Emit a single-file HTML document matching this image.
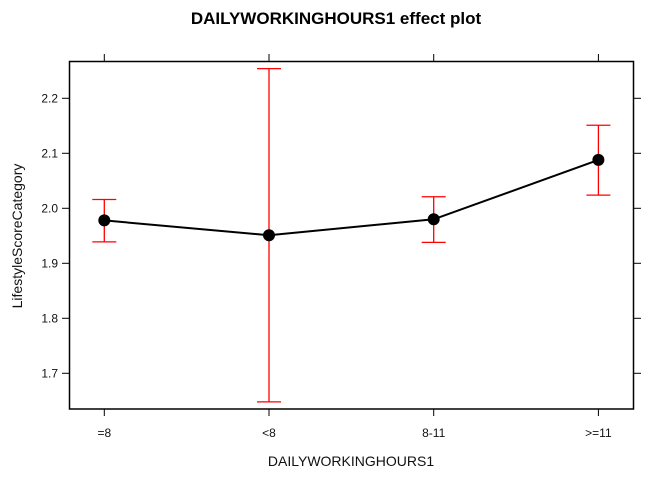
<!DOCTYPE html>
<html><head><meta charset="utf-8"><style>
body{margin:0;background:#fff}
svg{display:block;font-family:"Liberation Sans",Arial,sans-serif}
</style></head><body>
<svg id="c" width="672" height="480">
<text x="336" y="24" text-anchor="middle" font-size="17" font-weight="bold">DAILYWORKINGHOURS1 effect plot</text>
<rect x="69.5" y="61.5" width="564" height="347.5" fill="none" stroke="#000" stroke-width="1.5"/>
<text x="351" y="466" text-anchor="middle" font-size="14" fill="#111">DAILYWORKINGHOURS1</text>
<text transform="translate(22,236) rotate(-90)" text-anchor="middle" font-size="14" fill="#111">LifestyleScoreCategory</text>
<g id="g"></g>
</svg>
<script>
const categories=["=8","<8","8-11",">=11"];
const fitValues=[1.978,1.951,1.980,2.088];
const lowerValues=[1.939,1.648,1.938,2.024];
const upperValues=[2.016,2.254,2.021,2.151];
const yTicks=[1.7,1.8,1.9,2.0,2.1,2.2];
const NS="http://www.w3.org/2000/svg";
const g=document.getElementById('g');
function X(i){return 104.3+i*164.7;}
function Y(v){return 208.3-(v-2.0)*550;}
function mk(t,a){const e=document.createElementNS(NS,t);for(const k in a)e.setAttribute(k,a[k]);g.appendChild(e);return e;}
yTicks.forEach(v=>{
 const y=Y(v);
 let t=mk('line',{x1:62,x2:69.5,y1:y,y2:y,stroke:'#000'});
 
 
 t=mk('line',{x1:633.5,x2:641,y1:y,y2:y,stroke:'#000'});
 
 
 const l=mk('text',{x:58,y:y+4,'text-anchor':'end','font-size':12,fill:'#111'});
 l.textContent=v.toFixed(1);
 
 
});
categories.forEach((c,i)=>{
 const x=X(i);
 let t=mk('line',{x1:x,x2:x,y1:409,y2:416,stroke:'#000'});
 
 
 t=mk('line',{x1:x,x2:x,y1:54,y2:61.5,stroke:'#000'});
 
 
 const l=mk('text',{x:x,y:437,'text-anchor':'middle','font-size':12,fill:'#111'});
 l.textContent=c;
 
 
});
categories.forEach((c,i)=>{
 const x=X(i),lo=Y(lowerValues[i]),hi=Y(upperValues[i]);
 const eb=mk('path',{d:`M${x},${lo}V${hi}M${x-12},${hi}H${x+12}M${x-12},${lo}H${x+12}`,stroke:'#f00','stroke-width':1.3,fill:'none'});
 
 
});
const line=mk('polyline',{points:fitValues.map((v,i)=>X(i)+','+Y(v)).join(' '),stroke:'#000','stroke-width':2,fill:'none'});


fitValues.forEach((v,i)=>{
 const p=mk('circle',{cx:X(i),cy:Y(v),r:6,fill:'#000'});
 
 
});
</script>
</body></html>
